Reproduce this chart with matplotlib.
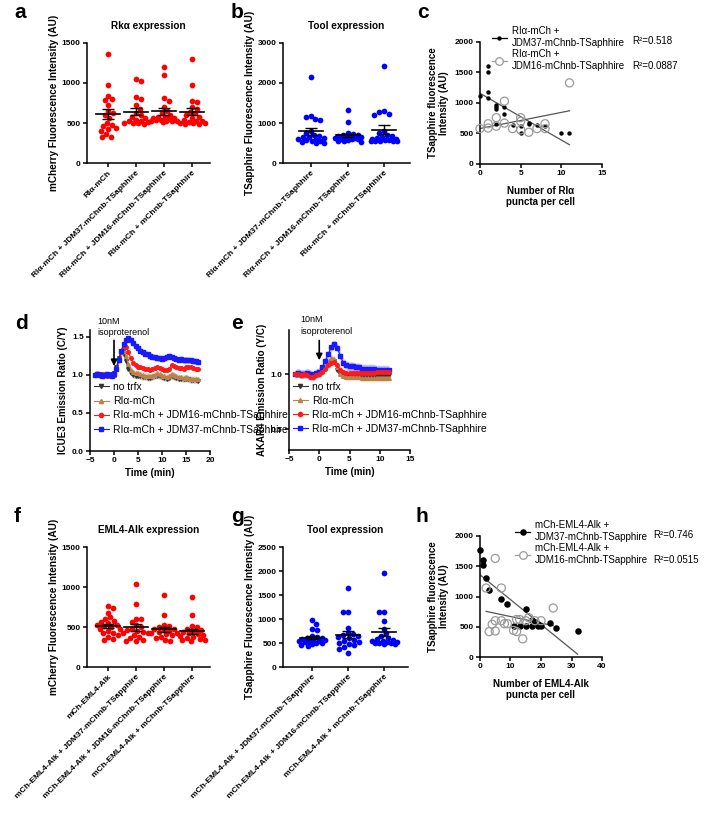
import numpy as np
import matplotlib
matplotlib.use("Agg")
import matplotlib.pyplot as plt
from matplotlib.lines import Line2D

plt.rcParams['font.family'] = ['Liberation Sans', 'DejaVu Sans']

# ---- data ----
a_labels = ["RIα-mCh", "RIα-mCh + JDM37-mChnb-TSaphhire",
            "RIα-mCh + JDM16-mChnb-TSaphhire", "RIα-mCh + mChnb-TSaphhire"]
a_vals = [
    [1360, 980, 840, 800, 790, 720, 650, 620, 600, 560, 500, 480, 460, 440, 420, 400, 360, 330, 320],
    [1050, 1020, 830, 800, 720, 680, 620, 600, 580, 560, 540, 530, 520, 510, 500, 500, 500, 490],
    [1200, 1100, 810, 780, 700, 650, 620, 600, 580, 570, 560, 560, 550, 540, 540, 530, 530, 520, 520, 510],
    [1300, 980, 780, 760, 700, 680, 640, 620, 600, 580, 560, 540, 530, 520, 510, 500, 500, 490, 500, 490],
]
b_labels = a_labels[1:]
b_vals = [
    [2150, 1180, 1150, 1100, 1080, 800, 750, 700, 680, 650, 650, 620, 600, 600, 580, 560, 550, 520, 500, 500],
    [1330, 1030, 750, 720, 700, 700, 680, 670, 650, 640, 630, 620, 610, 600, 600, 580, 560, 550, 530],
    [2430, 1290, 1270, 1230, 1200, 800, 750, 700, 680, 650, 620, 600, 600, 580, 570, 560, 550, 550, 540, 540],
]
f_labels = ["mCh-EML4-Alk", "mCh-EML4-Alk + JDM37-mChnb-TSapphire",
            "mCh-EML4-Alk + JDM16-mChnb-TSapphire", "mCh-EML4-Alk + mChnb-TSapphire"]
f_vals = [
    [760, 740, 680, 620, 600, 580, 560, 550, 530, 520, 510, 500, 480, 470, 450, 430, 420, 400, 380, 350, 340],
    [1040, 790, 600, 600, 560, 520, 500, 480, 460, 450, 440, 420, 420, 400, 380, 360, 340, 320, 320],
    [900, 650, 530, 510, 500, 480, 470, 460, 450, 440, 430, 420, 410, 400, 380, 360, 340, 320],
    [880, 650, 510, 500, 480, 460, 450, 440, 420, 410, 400, 390, 380, 360, 350, 340, 340, 330],
]
g_labels = f_labels[1:]
g_vals = [
    [970, 900, 800, 780, 650, 620, 600, 600, 580, 570, 560, 550, 540, 530, 520, 510, 500, 480, 460, 440],
    [1640, 1150, 1140, 820, 700, 680, 660, 640, 620, 600, 560, 540, 520, 500, 480, 450, 420, 380, 300],
    [1960, 1150, 1140, 960, 800, 700, 650, 600, 580, 560, 550, 540, 530, 520, 510, 500, 490, 480, 470],
]

# panel c: puncta vs TSapphire
c_k_x = [0, 1, 1, 1, 1, 2, 2, 2, 2, 3, 3, 4, 5, 5, 6, 6, 7, 8, 10, 11]
c_k_y = [1120, 1600, 1500, 1180, 1080, 970, 940, 900, 650, 940, 820, 640, 620, 500, 680, 650, 640, 620, 500, 500]
c_g_x = [0, 1, 1, 2, 2, 3, 3, 4, 5, 5, 5, 6, 7, 8, 8, 11]
c_g_y = [580, 660, 590, 760, 620, 1030, 670, 580, 760, 700, 560, 520, 580, 660, 580, 1330]
c_r2 = ["R²=0.518", "R²=0.0887"]
c_leg = ["RIα-mCh +\nJDM37-mChnb-TSaphhire", "RIα-mCh +\nJDM16-mChnb-TSaphhire"]

# panel h
h_k_x = [0, 1, 1, 2, 3, 7, 9, 11, 13, 15, 15, 17, 17, 18, 19, 19, 20, 23, 25, 32]
h_k_y = [1770, 1610, 1520, 1310, 1100, 960, 870, 520, 510, 790, 510, 520, 610, 580, 540, 510, 520, 560, 480, 430]
h_g_x = [2, 3, 4, 5, 5, 5, 7, 7, 8, 9, 11, 12, 12, 13, 14, 15, 16, 18, 20, 24]
h_g_y = [1140, 420, 540, 600, 430, 1630, 1140, 600, 550, 550, 440, 420, 620, 620, 300, 600, 650, 600, 600, 810]
h_r2 = ["R²=0.746", "R²=0.0515"]
h_leg = ["mCh-EML4-Alk +\nJDM37-mChnb-TSapphire", "mCh-EML4-Alk +\nJDM16-mChnb-TSapphire"]

# panel d: ICUE3 time course
d_time = [-4.0, -3.5, -3.0, -2.5, -2.0, -1.5, -1.0, -0.5, 0.0, 0.5, 1.0, 1.5, 2.0, 2.5, 3.0, 3.5,
          4.0, 4.5, 5.0, 5.5, 6.0, 6.5, 7.0, 7.5, 8.0, 8.5, 9.0, 9.5, 10.0, 10.5, 11.0, 11.5,
          12.0, 12.5, 13.0, 13.5, 14.0, 14.5, 15.0, 15.5, 16.0, 16.5, 17.0, 17.5]
d_black = [1.00, 1.01, 1.01, 1.00, 1.00, 0.99, 1.00, 1.01, 1.02, 1.10, 1.22, 1.30, 1.28, 1.18, 1.08, 1.03,
           1.00, 0.99, 0.99, 0.98, 0.97, 0.97, 0.96, 0.96, 0.97, 0.98, 0.99, 0.98, 0.97, 0.96, 0.95, 0.96,
           0.98, 0.97, 0.96, 0.95, 0.95, 0.94, 0.95, 0.94, 0.93, 0.93, 0.93, 0.92]
d_brown = [1.01, 1.02, 1.00, 0.99, 1.01, 1.00, 0.99, 1.00, 1.00, 1.08, 1.20, 1.30, 1.32, 1.25, 1.14, 1.07,
           1.04, 1.02, 1.02, 1.01, 1.00, 0.99, 0.99, 0.98, 0.99, 1.00, 1.02, 1.01, 0.99, 0.98, 0.97, 0.98,
           1.01, 1.00, 0.98, 0.97, 0.97, 0.96, 0.97, 0.96, 0.95, 0.95, 0.95, 0.94]
d_red = [1.00, 1.01, 1.00, 1.01, 1.00, 0.99, 1.00, 1.00, 1.00, 1.08, 1.20, 1.30, 1.36, 1.37, 1.30, 1.22,
         1.16, 1.13, 1.11, 1.10, 1.09, 1.08, 1.08, 1.07, 1.08, 1.09, 1.10, 1.09, 1.08, 1.07, 1.06, 1.08,
         1.13, 1.12, 1.10, 1.09, 1.09, 1.08, 1.10, 1.11, 1.10, 1.09, 1.08, 1.08]
d_blue = [1.00, 1.01, 1.00, 0.99, 1.00, 1.01, 1.00, 0.99, 1.01, 1.08, 1.20, 1.32, 1.40, 1.46, 1.48, 1.46,
          1.42, 1.38, 1.35, 1.32, 1.30, 1.28, 1.27, 1.25, 1.24, 1.23, 1.22, 1.22, 1.21, 1.22, 1.23, 1.25,
          1.24, 1.22, 1.21, 1.20, 1.21, 1.19, 1.20, 1.19, 1.19, 1.18, 1.18, 1.17]
d_sem = [0.04, 0.04, 0.03, 0.04]

# panel e: AKAR4 time course
e_time = [-4.0, -3.5, -3.0, -2.5, -2.0, -1.5, -1.0, -0.5, 0.0, 0.5, 1.0, 1.5, 2.0, 2.5, 3.0, 3.5,
          4.0, 4.5, 5.0, 5.5, 6.0, 6.5, 7.0, 7.5, 8.0, 8.5, 9.0, 9.5, 10.0, 10.5, 11.0, 11.5]
e_black = [1.00, 1.00, 0.99, 1.00, 1.00, 0.99, 1.00, 1.00, 1.00, 1.02, 1.06, 1.10, 1.12, 1.12, 1.04, 1.00,
           0.99, 0.98, 0.99, 0.99, 0.98, 0.98, 0.98, 0.98, 0.98, 0.98, 0.98, 0.99, 0.99, 0.99, 0.99, 0.99]
e_brown = [1.00, 1.00, 1.00, 0.99, 1.00, 1.00, 0.99, 1.00, 1.00, 1.03, 1.07, 1.11, 1.15, 1.14, 1.06, 1.00,
           0.98, 0.97, 0.97, 0.97, 0.97, 0.97, 0.96, 0.96, 0.96, 0.96, 0.96, 0.96, 0.96, 0.96, 0.96, 0.96]
e_red = [1.00, 1.00, 0.99, 1.00, 0.99, 0.97, 0.97, 0.99, 1.00, 1.02, 1.05, 1.08, 1.10, 1.11, 1.08, 1.04,
         1.02, 1.01, 1.01, 1.01, 1.01, 1.01, 1.01, 1.01, 1.01, 1.01, 1.01, 1.02, 1.02, 1.02, 1.02, 1.02]
e_blue = [1.00, 1.01, 1.00, 1.00, 1.01, 1.00, 0.98, 1.01, 1.02, 1.06, 1.12, 1.18, 1.25, 1.27, 1.24, 1.16,
          1.10, 1.08, 1.07, 1.07, 1.06, 1.06, 1.05, 1.05, 1.05, 1.05, 1.05, 1.04, 1.04, 1.04, 1.04, 1.04]
e_sem = [0.03, 0.03, 0.03, 0.04]

trace_labels = ["no trfx", "RIα-mCh", "RIα-mCh + JDM16-mChnb-TSaphhire", "RIα-mCh + JDM37-mChnb-TSaphhire"]
trace_colors = ["#333333", "#b8844c", "#ff1a1a", "#1a1aff"]
trace_markers = ["v", "^", "o", "s"]

W, H = 704, 816
fig = plt.figure(figsize=(W / 100, H / 100), dpi=100)


def box(x0, y0, x1, y1):
    ax = fig.add_axes([x0 / W, 1 - y1 / H, (x1 - x0) / W, (y1 - y0) / H])
    ax.spines['top'].set_visible(False)
    ax.spines['right'].set_visible(False)
    ax.spines['left'].set_linewidth(1.1)
    ax.spines['bottom'].set_linewidth(1.1)
    ax.tick_params(direction='out', length=3, width=1.1, labelsize=6, pad=1.5)
    return ax


def bold_ticks(ax):
    for t in ax.get_xticklabels() + ax.get_yticklabels():
        t.set_fontweight('bold')


def swarm(vals, dot, ypx, xpx, maxoff=13):
    # simple beeswarm, dots pushed sideways but kept within +-maxoff px
    placed = []
    offs = []
    for n, v in enumerate(vals):
        yp = v * ypx
        sign = 1 if n % 2 else -1
        cands = [0]
        for k in range(1, maxoff + 1):
            cands += [sign * k, -sign * k]
        best, best_d = 0, -1
        for c in cands:
            d = min([np.hypot(c - px, yp - py) for px, py in placed] or [99])
            if d >= dot:
                best = c
                break
            if d > best_d:
                best, best_d = c, d
        placed.append((best, yp))
        offs.append(best / xpx)
    return np.array(offs)


def dot_panel(ax, groups, color, ymax, yticks, labels, ylabel, title, xlim, xpx):
    ypx = ax.get_position().height * H / ymax
    for i, vals in enumerate(groups):
        vals = np.array(vals, float)
        xs = i + swarm(vals, 5, ypx, xpx)
        ax.scatter(xs, vals, s=17, color=color, lw=0, zorder=2, clip_on=False)
        m = vals.mean()
        se = vals.std(ddof=1) / np.sqrt(len(vals))
        hw = 12 / xpx
        ax.plot([i - hw, i + hw], [m, m], color='k', lw=1.2, zorder=3)
        ax.errorbar(i, m, yerr=se, fmt='none', ecolor='k', elinewidth=1,
                    capsize=4.5, capthick=1, zorder=3)
    ax.set_ylim(0, ymax)
    ax.set_xlim(*xlim)
    ax.set_yticks(yticks)
    ax.set_xticks(range(len(groups)))
    ax.set_xticklabels(labels, rotation=45, ha='right', rotation_mode='anchor')
    ax.set_ylabel(ylabel, fontsize=7.2, fontweight='bold', labelpad=2)
    ax.set_title(title, fontsize=7.2, fontweight='bold', pad=10)
    bold_ticks(ax)


ax = box(87, 43, 210, 163)
dot_panel(ax, a_vals, '#ff0000', 1500, [0, 500, 1000, 1500], a_labels,
          "mCherry Fluorescence Intensity (AU)", "Rkα expression", (-0.75, 3.65), 28)
ax = box(283, 43, 410, 163)
dot_panel(ax, b_vals, '#0000ff', 3000, [0, 1000, 2000, 3000], b_labels,
          "TSapphire Fluorescence Intensity (AU)", "Tool expression", (-0.77, 2.71), 36.5)
ax = box(87, 547, 210, 667)
dot_panel(ax, f_vals, '#ff0000', 1500, [0, 500, 1000, 1500], f_labels,
          "mCherry Fluorescence Intensity (AU)", "EML4-Alk expression", (-0.75, 3.65), 28)
ax = box(283, 547, 408, 667)
dot_panel(ax, g_vals, '#0000ff', 2500, [0, 500, 1000, 1500, 2000, 2500], g_labels,
          "TSapphire Fluorescence Intensity (AU)", "Tool expression", (-0.8, 2.67), 36)


def corr_panel(ax, kx, ky, gx, gy, xmax, xticks, ksize, r2, leg, leg_x, r2_x, xlabel):
    ax.scatter(kx, ky, s=ksize, color='k', lw=0, zorder=3, clip_on=False)
    ax.scatter(gx, gy, s=34, facecolor='none', edgecolor='#9a9a9a', lw=0.9, zorder=3, clip_on=False)
    for xs, ys in [(kx, ky), (gx, gy)]:
        p = np.polyfit(xs, ys, 1)
        xx = np.array([min(xs), max(xs)])
        ax.plot(xx, np.polyval(p, xx), color='#555555', lw=0.9, zorder=2)
    ax.set_xlim(0, xmax)
    ax.set_ylim(0, 2000)
    ax.set_xticks(xticks)
    ax.set_yticks([0, 500, 1000, 1500, 2000])
    ax.set_ylabel("TSapphire fluorescence\nIntensity (AU)", fontsize=7, fontweight='bold', labelpad=4)
    ax.set_xlabel(xlabel, fontsize=7, fontweight='bold', labelpad=6)
    bold_ticks(ax)
    hk = Line2D([], [], color='k', lw=0.9, marker='o', ms=np.sqrt(ksize), mew=0)
    hg = Line2D([], [], color='#9a9a9a', lw=0.9, marker='o', ms=5.5, mfc='white', mew=0.9)
    ax.legend([hk, hg], leg, loc='upper left', bbox_to_anchor=(leg_x, 1.13), frameon=False,
              fontsize=7, handlelength=1.5, handletextpad=0.5, labelspacing=0.15,
              borderaxespad=0, borderpad=0)
    ax.text(r2_x, 1.01, r2[0], transform=ax.transAxes, fontsize=7, va='center')
    ax.text(r2_x, 0.80, r2[1], transform=ax.transAxes, fontsize=7, va='center')


ax = box(480, 42, 602, 164)
corr_panel(ax, c_k_x, c_k_y, c_g_x, c_g_y, 15, [0, 5, 10, 15], 10, c_r2, c_leg, 0.1, 1.25,
           "Number of RIα\npuncta per cell")
ax = box(480, 536, 602, 657)
corr_panel(ax, h_k_x, h_k_y, h_g_x, h_g_y, 40, [0, 10, 20, 30, 40], 22, h_r2, h_leg, 0.29, 1.42,
           "Number of EML4-Alk\npuncta per cell")


def trace_panel(ax, t, series, sems, order, xlim, xticks, ylim, yticks, ylabel, arrow, txt_xy):
    for i in order:
        y = np.array(series[i])
        ax.fill_between(t, y - sems[i], y + sems[i], color=trace_colors[i], alpha=0.25, lw=0, zorder=1)
        ax.plot(t, y, color=trace_colors[i], marker=trace_markers[i], ms=2.6, lw=0.8, zorder=2)
    ax.set_xlim(*xlim)
    ax.set_ylim(*ylim)
    ax.set_xticks(xticks)
    ax.set_yticks(yticks)
    ax.set_yticklabels(["%.1f" % v for v in yticks])
    ax.set_xlabel("Time (min)", fontsize=7, fontweight='bold', labelpad=3)
    ax.set_ylabel(ylabel, fontsize=7, fontweight='bold', labelpad=3)
    bold_ticks(ax)
    ax.annotate('', xy=(0, arrow[1]), xytext=(0, arrow[0]),
                arrowprops=dict(arrowstyle='-|>', color='k', lw=1.2, mutation_scale=9), zorder=5)
    ax.text(txt_xy[0], txt_xy[1], "10nM\nisoproterenol", fontsize=6.5, va='bottom', ha='left',
            linespacing=1.3, clip_on=False)
    hs = [Line2D([], [], color=trace_colors[i], marker=trace_markers[i], ms=3, lw=0.8) for i in range(4)]
    ax.legend(hs, trace_labels, loc='upper left', bbox_to_anchor=(0.03, 0.57), frameon=False,
              fontsize=7.5, handlelength=1.5, handletextpad=0.4, labelspacing=0.4,
              borderaxespad=0, borderpad=0)


ax = box(90, 330, 210, 451)
trace_panel(ax, d_time, [d_black, d_brown, d_red, d_blue], d_sem, [0, 1, 2, 3],
            (-5, 20), [-5, 0, 5, 10, 15, 20], (0, 1.59), [0.0, 0.5, 1.0, 1.5],
            "ICUE3 Emission Ratio (C/Y)", (1.49, 1.08), (-3.4, 1.50))
ax = box(289, 330, 410, 450)
trace_panel(ax, e_time, [e_black, e_brown, e_red, e_blue], e_sem, [0, 1, 3, 2],
            (-5, 15), [-5, 0, 5, 10, 15], (0.31, 1.4), [0.5, 1.0],
            "AKAR4 Emission Ratio (Y/C)", (1.33, 1.10), (-3.2, 1.35))

for letter, x, y in [('a', 20, 13), ('b', 237, 13), ('c', 423, 13), ('d', 22, 324), ('e', 237, 324),
                     ('f', 17, 517), ('g', 237, 517), ('h', 422, 517)]:
    fig.text(x / W, 1 - y / H, letter, fontsize=15, fontweight='bold', ha='center', va='center')

fig.savefig("out.png", dpi=100)
